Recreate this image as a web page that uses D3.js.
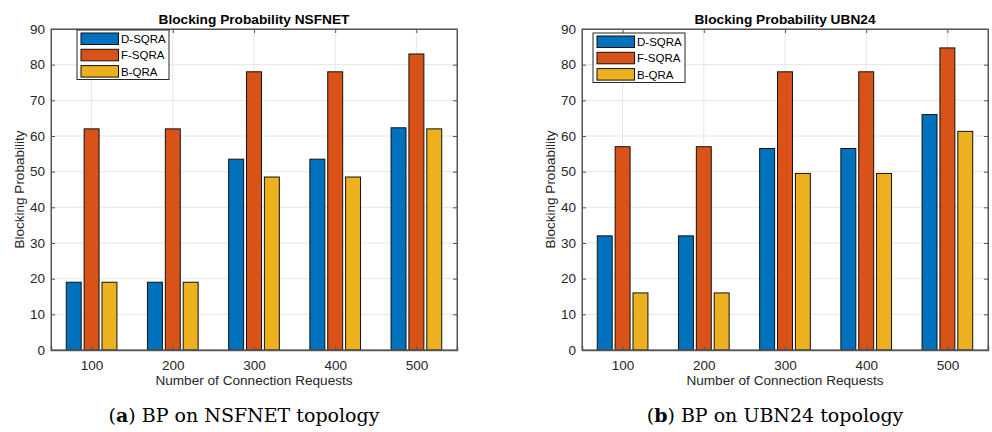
<!DOCTYPE html>
<html>
<head>
<meta charset="utf-8">
<script src="https://cdn.jsdelivr.net/npm/d3@7"></script>
<style>
  body { margin: 0; background: #fff; }
  svg text { font-family: "Liberation Sans", Arial, sans-serif; }
</style>
</head>
<body>
<div id="chart"></div>
<script>
const categories = ['100', '200', '300', '400', '500'];
const seriesNames = ['D-SQRA', 'F-SQRA', 'B-QRA'];
const colors = ['#0072BD', '#D95319', '#EDB120'];
const yTicks = [0, 10, 20, 30, 40, 50, 60, 70, 80, 90];

// NSFNET
const nsfD = [19, 19, 53.5, 53.5, 62.3];
const nsfF = [62, 62, 78, 78, 83];
const nsfB = [19, 19, 48.5, 48.5, 62];

// UBN24
const ubnD = [32, 32, 56.5, 56.5, 66];
const ubnF = [57, 57, 78, 78, 84.7];
const ubnB = [16, 16, 49.5, 49.5, 61.3];

const panels = [
  { title: 'Blocking Probability NSFNET', tag: 'a', caption: ' BP on NSFNET topology',
    series: [nsfD, nsfF, nsfB], left: 51, right: 457, legend: {x: 77, y: 30} },
  { title: 'Blocking Probability UBN24', tag: 'b', caption: ' BP on UBN24 topology',
    series: [ubnD, ubnF, ubnB], left: 582, right: 988, legend: {x: 593, y: 33} }
];

const W = 992, H = 432;
const plotTop = 29, plotBottom = 350;

const svg = d3.select('#chart').append('svg')
  .attr('width', W)
  .attr('height', H);

panels.forEach(p => {
  const g = svg.append('g');
  const x = d3.scaleLinear().domain([0.5, 5.5]).range([p.left, p.right]);
  const y = d3.scaleLinear().domain([0, 90]).range([plotBottom, plotTop]);
  const barW = 0.184, off = 0.22;

  // grid
  g.append('g').selectAll('line').data(yTicks).join('line')
    .attr('x1', p.left).attr('x2', p.right)
    .attr('y1', d => y(d)).attr('y2', d => y(d))
    .attr('stroke', '#e6e6e6').attr('stroke-width', 1);
  g.append('g').selectAll('line').data(categories).join('line')
    .attr('x1', (d, i) => x(i + 1)).attr('x2', (d, i) => x(i + 1))
    .attr('y1', plotTop).attr('y2', plotBottom)
    .attr('stroke', '#e6e6e6').attr('stroke-width', 1);

  // bars
  p.series.forEach((vals, s) => {
    g.append('g').selectAll('rect').data(vals).join('rect')
      .attr('x', (d, i) => x(i + 1 + (s - 1) * off - barW / 2))
      .attr('width', x(barW) - x(0))
      .attr('y', d => y(d))
      .attr('height', d => y(0) - y(d))
      .attr('fill', colors[s])
      .attr('stroke', '#111')
      .attr('stroke-width', 1);
  });

  // axes box
  const axisColor = '#555';
  g.append('rect')
    .attr('x', p.left).attr('y', plotTop)
    .attr('width', p.right - p.left).attr('height', plotBottom - plotTop)
    .attr('fill', 'none').attr('stroke', axisColor).attr('stroke-width', 1);

  const yAxis = d3.axisLeft(y).tickValues(yTicks).tickSize(-4).tickPadding(6);
  g.append('g').attr('transform', `translate(${p.left},0)`).call(yAxis)
    .call(a => a.select('.domain').attr('stroke', axisColor))
    .call(a => a.selectAll('line').attr('stroke', axisColor))
    .call(a => a.selectAll('text').attr('fill', '#262626').style('font-size', '13.5px'));
  const yAxisR = d3.axisRight(y).tickValues(yTicks).tickSize(-4).tickFormat('');
  g.append('g').attr('transform', `translate(${p.right},0)`).call(yAxisR)
    .call(a => a.select('.domain').attr('stroke', axisColor))
    .call(a => a.selectAll('line').attr('stroke', axisColor));

  const xAxis = d3.axisBottom(x).tickValues([1, 2, 3, 4, 5])
    .tickFormat((d, i) => categories[i]).tickSize(-4).tickPadding(10);
  g.append('g').attr('transform', `translate(0,${plotBottom})`).call(xAxis)
    .call(a => a.select('.domain').attr('stroke', axisColor).attr('stroke-width', 1.5))
    .call(a => a.selectAll('line').attr('stroke', axisColor))
    .call(a => a.selectAll('text').attr('fill', '#262626').style('font-size', '13.5px'));
  const xAxisT = d3.axisTop(x).tickValues([1, 2, 3, 4, 5]).tickSize(-4).tickFormat('');
  g.append('g').attr('transform', `translate(0,${plotTop})`).call(xAxisT)
    .call(a => a.select('.domain').attr('stroke', axisColor))
    .call(a => a.selectAll('line').attr('stroke', axisColor));

  const cx = (p.left + p.right) / 2;
  g.append('text').attr('x', cx).attr('y', 24)
    .attr('text-anchor', 'middle').attr('font-weight', 'bold')
    .style('font-size', '13.7px').attr('fill', '#000').text(p.title);
  g.append('text').attr('x', cx).attr('y', 385)
    .attr('text-anchor', 'middle').style('font-size', '13.6px')
    .attr('fill', '#262626').text('Number of Connection Requests');
  g.append('text')
    .attr('transform', `translate(${p.left - 27},${(plotTop + plotBottom) / 2}) rotate(-90)`)
    .attr('text-anchor', 'middle').style('font-size', '13.5px')
    .attr('fill', '#262626').text('Blocking Probability');

  // legend
  const lg = g.append('g').attr('transform', `translate(${p.legend.x},${p.legend.y})`);
  lg.append('rect').attr('width', 92).attr('height', 49.5)
    .attr('fill', '#fff').attr('stroke', '#262626').attr('stroke-width', 1);
  seriesNames.forEach((n, i) => {
    lg.append('rect').attr('x', 4).attr('y', 3 + i * 16.3)
      .attr('width', 37.5).attr('height', 11.5)
      .attr('fill', colors[i]).attr('stroke', '#111');
    lg.append('text').attr('x', 44).attr('y', 9 + i * 16.3).attr('dy', '0.35em')
      .style('font-size', '11.5px').attr('fill', '#000').text(n);
  });

  // caption
  const cap = svg.append('text').attr('x', p.tag === 'a' ? 244 : 775).attr('y', 422)
    .attr('text-anchor', 'middle')
    .style('font-family', '"DejaVu Serif", "Liberation Serif", serif')
    .style('font-size', '19px').attr('fill', '#000');
  cap.append('tspan').text('(');
  cap.append('tspan').attr('font-weight', 'bold').text(p.tag);
  cap.append('tspan').text(')');
  cap.append('tspan').text(p.caption);
});
</script>
</body>
</html>
